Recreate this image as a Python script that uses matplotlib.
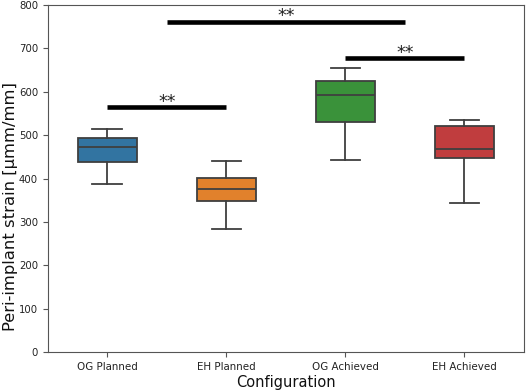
import matplotlib
matplotlib.use("Agg")
import matplotlib.pyplot as plt

categories = ["OG Planned", "EH Planned", "OG Achieved", "EH Achieved"]
whislo = [387, 285, 442, 343]
q1 = [438, 348, 531, 447]
med = [472, 376, 592, 468]
q3 = [494, 402, 626, 522]
whishi = [515, 440, 654, 536]
colors = ["#3274a1", "#e1812c", "#3a923a", "#c03d3e"]

# significance brackets: (x_start, x_end, y)
sig_x0 = [0, 0.5, 2]
sig_x1 = [1, 2.5, 3]
sig_y = [564, 761, 677]
sig_text = ["**", "**", "**"]

fig = plt.figure(figsize=(5.26, 3.9), dpi=100)
ax = fig.add_axes([0.091, 0.097, 0.905, 0.89])

stats = []
for i, c in enumerate(categories):
    stats.append(dict(label=c, whislo=whislo[i], q1=q1[i], med=med[i],
                      q3=q3[i], whishi=whishi[i], fliers=[]))

lc = "#3f3f3f"
bp = ax.bxp(stats, positions=range(len(categories)), widths=0.5,
            patch_artist=True, showfliers=False,
            boxprops=dict(edgecolor=lc, linewidth=1.3),
            medianprops=dict(color=lc, linewidth=1.3),
            whiskerprops=dict(color=lc, linewidth=1.3),
            capprops=dict(color=lc, linewidth=1.3))
for patch, col in zip(bp["boxes"], colors):
    patch.set_facecolor(col)

for x0, x1, y, t in zip(sig_x0, sig_x1, sig_y, sig_text):
    ax.plot([x0, x1], [y, y], color="black", linewidth=3.3, solid_capstyle="butt")
    ax.text((x0 + x1) / 2, y + 2, t, ha="center", va="baseline", fontsize=12.5,
            color="#222222")

ax.set_xlim(-0.5, 3.5)
ax.set_ylim(0, 800)
ax.set_xticks(range(len(categories)))
ax.set_xticklabels(categories, fontsize=7.4)
ax.tick_params(axis="y", labelsize=7.3)
ax.tick_params(colors="#555555", which="both")
ax.tick_params(axis="both", labelcolor="#222222")
ax.set_xlabel("Configuration", fontsize=10.5, labelpad=2, color="#111111")
ax.set_ylabel("Peri-implant strain [µmm/mm]", fontsize=11.8, color="#111111")
ax.yaxis.set_label_coords(-0.062, 0.42)
for s in ax.spines.values():
    s.set_color("#555555")

fig.savefig("out.png", dpi=100)
